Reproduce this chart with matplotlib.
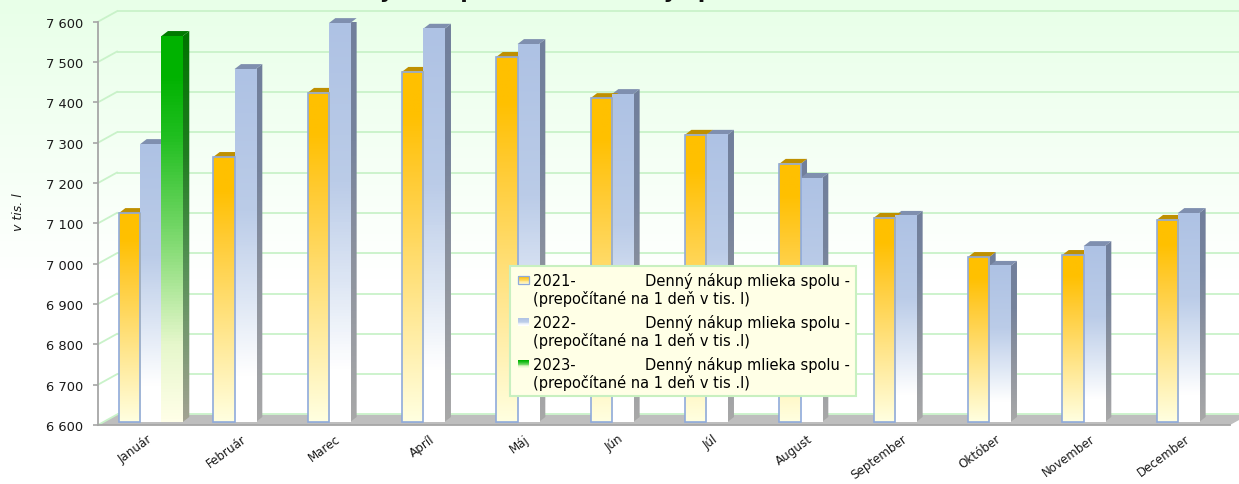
#!/usr/bin/env python3
"""Denny nakup mlieka: pseudo-3D column chart, 2021-2023."""

import numpy as np
import matplotlib
matplotlib.use("Agg")
import matplotlib.pyplot as plt
from matplotlib.colors import LinearSegmentedColormap
from matplotlib.legend_handler import HandlerBase
from matplotlib.patches import Patch, Polygon, Rectangle
from matplotlib.transforms import Affine2D

MONTHS = ["Január", "Február", "Marec", "Apríl", "Máj", "Jún", "Júl", "August",
          "September", "Október", "November", "December"]
VALUES_2021 = [7118, 7257, 7416, 7468, 7505, 7403, 7312, 7240, 7106, 7009, 7014, 7101]
VALUES_2022 = [7289, 7475, 7589, 7575, 7537, 7413, 7312, 7205, 7111, 6987, 7036, 7118]
VALUES_2023 = [7557]
Y_TICKS = [6600, 6700, 6800, 6900, 7000, 7100, 7200, 7300, 7400, 7500, 7600]

TITLE = "Denný nákup mlieka mesačný spolu v rokoch 2021 - 2023"
GAP = " " * 15
LABEL_2021 = f"2021-{GAP}Denný nákup mlieka spolu -\n(prepočítané na 1 deň v tis. l)"
LABEL_2022 = f"2022-{GAP}Denný nákup mlieka spolu -\n(prepočítané na 1 deň v tis .l)"
LABEL_2023 = f"2023-{GAP}Denný nákup mlieka spolu -\n(prepočítané na 1 deň v tis .l)"

W, H = 1239, 485
PX_X = 94.33          # pixels per category
PX_Y = 0.4033         # pixels per litre unit
BAR_W = 21.3 / PX_X
LIFT = 3 / PX_Y       # front of the bars sits above the axis line
DEPTH_X = 6.5 / PX_X
DEPTH_Y = 5 / PX_Y
BACK_X = 19 / PX_X
BACK_Y = 10.5 / PX_Y
X0, X1 = -0.56, 11.44
Y0, Y1 = 6600, 7600

GRID = "#C9F2C9"
AXIS = "#A6A6A6"

CMAP_2021 = LinearSegmentedColormap.from_list(
    "y", [(0, "#FFFFE0"), (0.35, "#FFE58A"), (0.7, "#FFCB33"), (0.88, "#FFC000"), (1, "#FFC000")])
CMAP_2022 = LinearSegmentedColormap.from_list(
    "b", [(0, "#FFFFFF"), (0.13, "#FFFFFF"), (0.35, "#DDE6F4"), (0.6, "#BBCCE8"), (1, "#AEC2E4")])
CMAP_2023 = LinearSegmentedColormap.from_list(
    "g", [(0, "#FFFFE8"), (0.2, "#E6F7CC"), (0.45, "#86DC76"), (0.75, "#1EBE1E"), (0.9, "#00B200"), (1, "#00B200")])
CMAP_SIDE = LinearSegmentedColormap.from_list(
    "s", [(0, "#A8A8A8"), (0.4, "#8C929E"), (0.7, "#76839C"), (1, "#717F9B")])
CMAP_SIDE_G = LinearSegmentedColormap.from_list(
    "sg", [(0, "#A3A393"), (0.4, "#559055"), (0.7, "#1E7D1E"), (1, "#007400")])
TOP_COLORS = {"y": "#BF9000", "b": "#7F8FAF", "g": "#007A00"}

RAMP = np.linspace(1, 0, 128).reshape(-1, 1)


def bar_3d(ax, x, value, cmap, side_cmap, top, edge=None):
    """Front face, side face and top face of one column (sides < tops < fronts)."""
    b = Y0 + LIFT
    t = value + LIFT
    x2 = x + BAR_W
    ax.imshow(RAMP, cmap=cmap, extent=(x, x2, b, t), aspect="auto",
              zorder=4, clip_on=False, vmin=0, vmax=1)
    side = ax.imshow(RAMP, cmap=side_cmap, extent=(x2, x2 + DEPTH_X, b, t + DEPTH_Y),
                     aspect="auto", zorder=2.5, vmin=0, vmax=1)
    clip = Polygon([(x2, b), (x2 + DEPTH_X, b + DEPTH_Y), (x2 + DEPTH_X, t + DEPTH_Y), (x2, t)],
                   transform=ax.transData)
    side.set_clip_path(clip)
    ax.add_patch(Polygon([(x, t), (x + DEPTH_X, t + DEPTH_Y), (x2 + DEPTH_X, t + DEPTH_Y), (x2, t)],
                         facecolor=top, edgecolor="none", zorder=3, clip_on=False))
    if edge:
        ax.add_patch(Rectangle((x, b), BAR_W, t - b, facecolor="none", edgecolor=edge,
                               linewidth=1.2, zorder=4.5, clip_on=False))


class GradientSwatch(HandlerBase):
    """Small gradient legend key, aligned with the first label line."""

    def __init__(self, cmap, edge=None):
        super().__init__()
        self.cmap = cmap
        self.edge = edge

    def create_artists(self, legend, orig, xd, yd, width, height, fontsize, trans):
        n = 10
        x0, w, h = 1.5, 7.5, 6.0
        y_top = height + 6.5
        out = []
        for i in range(n):
            out.append(Rectangle((x0, y_top - (i + 1) * h / n), w, h / n + 0.15,
                                 facecolor=self.cmap(1 - i / (n - 1) * 0.9),
                                 edgecolor="none", transform=trans))
        if self.edge:
            out.append(Rectangle((x0, y_top - h), w, h, facecolor="none",
                                 edgecolor=self.edge, linewidth=0.9, transform=trans))
        return out


fig = plt.figure(figsize=(W / 100, H / 100), dpi=100)

# background wash
bg = fig.add_axes([0, 0, 1, 1], zorder=-1)
wash = LinearSegmentedColormap.from_list("w", [(0, "#FFFFFF"), (0.42, "#FFFFFF"), (1, "#E8FFE8")])
bg.imshow(RAMP, cmap=wash, aspect="auto", vmin=0, vmax=1)
bg.axis("off")

ax = fig.add_axes([98 / W, (H - 426) / H, (1230 - 98) / W, (426 - 22.7) / H])
ax.patch.set_alpha(0)

# floor and back wall
ax.add_patch(Polygon([(X0, Y0), (X0 + BACK_X, Y0 + BACK_Y), (X1 + BACK_X, Y0 + BACK_Y), (X1, Y0)],
                     facecolor="#BEBEBE", edgecolor="none", zorder=1, clip_on=False))
for v in Y_TICKS:
    ax.plot([X0 + BACK_X, X1 + BACK_X], [v + BACK_Y, v + BACK_Y], color=GRID, lw=1.3,
            zorder=1.2, clip_on=False, solid_capstyle="butt")
    ax.plot([X0, X0 + BACK_X], [v, v + BACK_Y], color=GRID, lw=1.3, zorder=1.2, clip_on=False)

# columns
for i in range(len(MONTHS)):
    left = i - 1.5 * BAR_W
    bar_3d(ax, left + BAR_W, VALUES_2022[i], CMAP_2022, CMAP_SIDE, TOP_COLORS["b"])
    bar_3d(ax, left, VALUES_2021[i], CMAP_2021, CMAP_SIDE, TOP_COLORS["y"], edge="#8FAADC")
for i, v in enumerate(VALUES_2023):
    bar_3d(ax, i + 0.5 * BAR_W, v, CMAP_2023, CMAP_SIDE_G, TOP_COLORS["g"])

ax.set_xlim(X0, X1)
ax.set_ylim(Y0, Y1)
ax.set_xticks(range(len(MONTHS)))
ax.set_xticklabels(MONTHS, rotation=36, ha="right", rotation_mode="anchor",
                   fontsize=8.6, color="#1A1A1A")
ax.set_yticks(Y_TICKS)
ax.set_yticklabels([f"{v:,}".replace(",", " ") for v in Y_TICKS], fontsize=9.4, color="#1A1A1A")
ax.tick_params(axis="x", length=0, pad=5)
ax.tick_params(axis="y", length=3.5, width=1.2, color=AXIS, pad=7)
for lab in ax.get_xticklabels():
    lab.set_transform(lab.get_transform() + Affine2D().translate(-4, 0))
for name in ["top", "right"]:
    ax.spines[name].set_visible(False)
for name in ["left", "bottom"]:
    ax.spines[name].set_color(AXIS)
    ax.spines[name].set_linewidth(1.3)
    ax.spines[name].set_zorder(2)

fig.text(18 / W, (H - 212) / H, "v tis. l", rotation=90, style="italic", fontsize=9,
         ha="center", va="center", color="#1A1A1A")
fig.text(665 / W, (H + 1.5) / H, TITLE, fontsize=15.5, fontweight="bold", ha="center",
         va="baseline", color="#111111")

handles = [Patch(label=LABEL_2021), Patch(label=LABEL_2022), Patch(label=LABEL_2023)]
leg = ax.legend(
    handles=handles,
    handler_map={
        handles[0]: GradientSwatch(CMAP_2021, "#8FAADC"),
        handles[1]: GradientSwatch(CMAP_2022),
        handles[2]: GradientSwatch(CMAP_2023),
    },
    loc="upper left",
    bbox_to_anchor=(510 / W, (H - 267) / H),
    bbox_transform=fig.transFigure,
    borderaxespad=0,
    fontsize=10.5,
    fancybox=False,
    framealpha=1,
    facecolor="#FFFFE6",
    edgecolor="#C8F0C0",
    handlelength=0.85,
    handletextpad=0.3,
    labelspacing=0.55,
    borderpad=0.42,
)
leg.get_frame().set_linewidth(1.5)
leg.set_zorder(10)
for t in leg.get_texts():
    t.set_linespacing(1.15)

fig.savefig("out.png", dpi=100)
